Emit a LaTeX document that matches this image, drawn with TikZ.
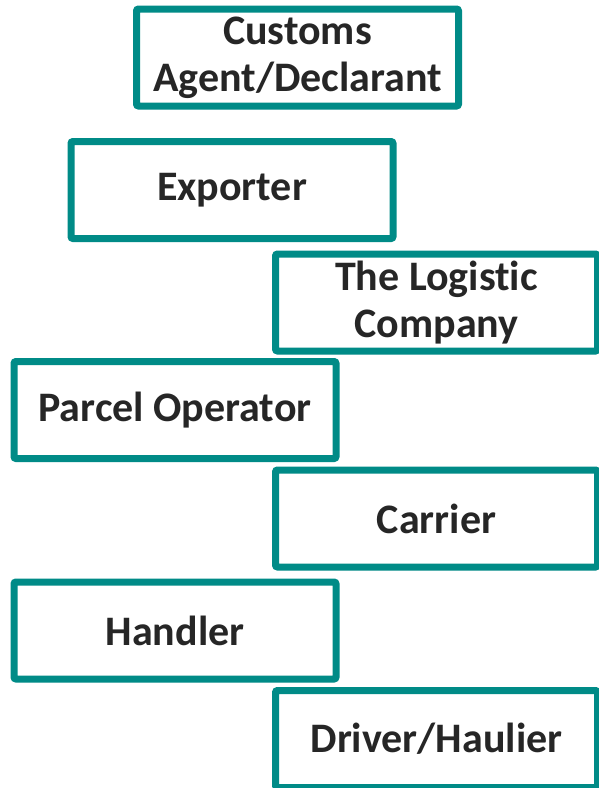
\documentclass[tikz,border=0pt]{standalone}
\usepackage{fontspec}
\setmainfont[Ligatures=NoCommon]{Carlito}
\usepackage{tikz}
\usetikzlibrary{shadows}
\definecolor{roleteal}{RGB}{0,139,135}
\definecolor{roletext}{RGB}{38,38,38}
\tikzset{
    role/.style={draw=roleteal, line width=7pt, rounded corners=2pt, fill=white,
        minimum width=322pt, minimum height=97pt, inner sep=0pt,
        align=center, text=roletext,
        font=\fontsize{42}{47}\selectfont\bfseries,
        drop shadow={opacity=.25, shadow xshift=1pt, shadow yshift=-3pt}}
}

\begin{document}
\begin{tikzpicture}[x=1pt, y=-1pt]
    \useasboundingbox (0, 0) rectangle (598, 788);
    \node[role](agent) at (297.5, 57.5) {Customs\\Agent/Declarant};
    \node[role](exporter) at (232, 190) {Exporter};
    \node[role](logistic) at (436.5, 302.5) {The Logistic\\Company};
    \node[role](parcel) at (175, 410) {Parcel Operator};
    \node[role](carrier) at (436.5, 518.5) {Carrier};
    \node[role](handler) at (175, 630.5) {Handler};
    \node[role](driver) at (436.5, 739) {Driver/Haulier};
\end{tikzpicture}
\end{document}
